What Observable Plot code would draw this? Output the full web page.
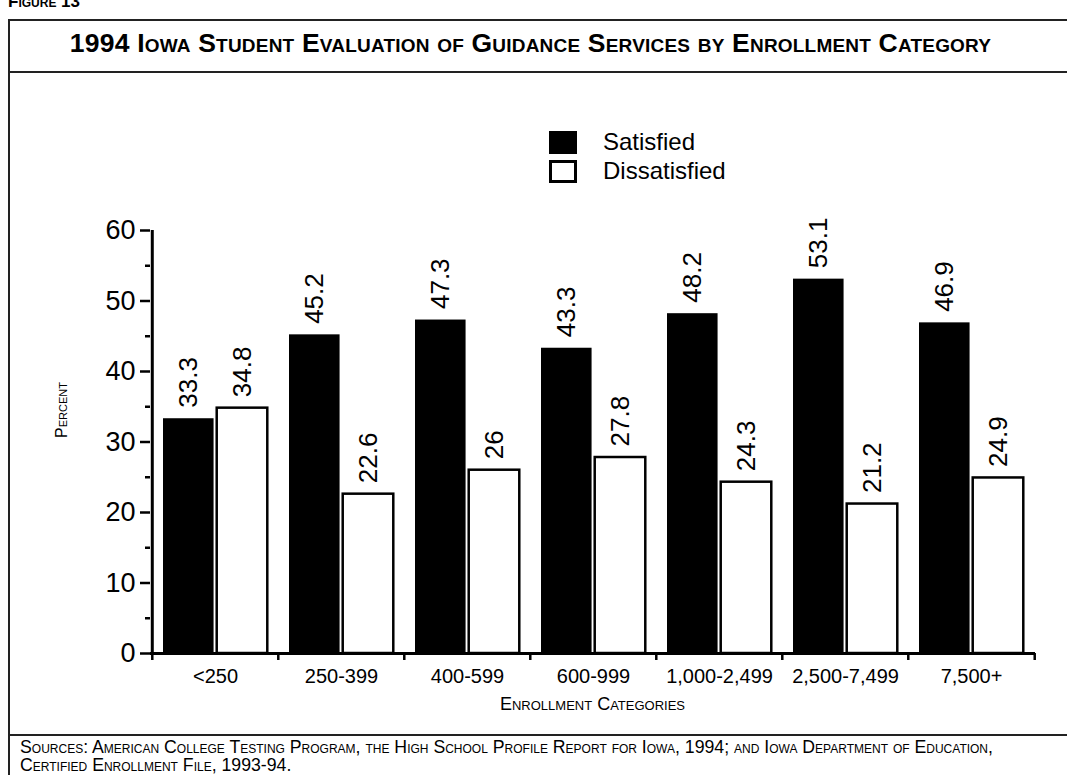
<!DOCTYPE html>
<html><head><meta charset="utf-8">
<script src="https://cdn.jsdelivr.net/npm/d3@7"></script>
<script src="https://cdn.jsdelivr.net/npm/@observablehq/plot@0.6"></script>
<style>
body{margin:0;background:#fff;font-family:"Liberation Sans",Arial,Helvetica,sans-serif;color:#000;}
#wrap{position:relative;width:1067px;height:775px;overflow:hidden;background:#fff;}
.abs{position:absolute;}
.sc{font-variant:small-caps;}
.line{position:absolute;background:#222;}
#chart{position:absolute;left:0;top:0;}
</style></head><body><div id="wrap">
<div class="abs sc" style="left:8px;top:-8px;font-size:17px;font-weight:bold;">Figure 13</div>
<div class="line" style="left:8px;top:19px;width:1059px;height:2px;"></div>
<div class="line" style="left:8px;top:19px;width:2px;height:756px;"></div>
<div class="line" style="left:8px;top:71px;width:1059px;height:2px;"></div>
<div class="line" style="left:8px;top:734px;width:1059px;height:2px;"></div>
<div id="title" class="abs sc" style="left:0px;width:1061px;top:28px;text-align:center;font-size:26.5px;font-weight:bold;white-space:nowrap;letter-spacing:0.2px;">1994 Iowa Student Evaluation of Guidance Services by Enrollment Category</div>
<div id="chart"></div>
<div class="abs" style="left:549px;top:131px;width:28px;height:23px;background:#000;"></div>
<div class="abs" style="left:549px;top:160px;width:22px;height:17px;border:3px solid #000;background:#fff;"></div>
<div id="leg1" class="abs" style="left:603px;top:128px;font-size:24px;">Satisfied</div>
<div id="leg2" class="abs" style="left:603px;top:157px;font-size:24px;">Dissatisfied</div>
<div class="abs sc" style="left:62px;top:410px;font-size:16px;transform:translate(-50%,-50%) rotate(-90deg);white-space:nowrap;">Percent</div>
<div class="abs sc" style="left:150px;width:885px;top:694px;text-align:center;font-size:18px;">Enrollment Categories</div>
<div id="foot" class="abs sc" style="left:20px;top:738px;font-size:17.7px;line-height:18px;white-space:nowrap;">Sources: American College Testing Program, the High School Profile Report for Iowa, 1994; and Iowa Department of Education,<br>Certified Enrollment File, 1993-94.</div>
</div>
<script>
const categories = ["<250","250-399","400-599","600-999","1,000-2,499","2,500-7,499","7,500+"];
const satisfied = [33.3,45.2,47.3,43.3,48.2,53.1,46.9];
const dissatisfied = [34.8,22.6,26,27.8,24.3,21.2,24.9];
const yTicks = [0,10,20,30,40,50,60];
const minorTicks = [5,15,25,35,45,55];

const sat = categories.map((c,i)=>({cat:c, series:"Satisfied", value:satisfied[i]}));
const dis = categories.map((c,i)=>({cat:c, series:"Dissatisfied", value:dissatisfied[i]}));

const W=1067,H=775,ML=150,MR=32,MT=230,MB=122;
const b=(W-ML-MR)/categories.length;
const barW=51;
const chart = Plot.plot({
  width:W,height:H,marginLeft:ML,marginRight:MR,marginTop:MT,marginBottom:MB,
  style:{fontFamily:"'Liberation Sans',Arial,sans-serif",color:"black",background:"transparent",overflow:"visible"},
  x:{domain:categories,padding:0},
  y:{domain:[0,60]},
  marks:[
    Plot.barY(sat,{x:"cat",y:"value",fill:"black",insetLeft:11,insetRight:b-11-barW}),
    Plot.barY(dis,{x:"cat",y:"value",fill:"white",stroke:"black",strokeWidth:2.5,insetLeft:b/2+1.5,insetRight:b/2-1.5-barW}),
    Plot.text(sat,{x:"cat",y:"value",text:d=>String(d.value),rotate:-90,textAnchor:"start",dx:-(b/2-11-barW/2),dy:-11,fontSize:26}),
    Plot.text(dis,{x:"cat",y:"value",text:d=>String(d.value),rotate:-90,textAnchor:"start",dx:(b/2+1.5+barW/2)-b/2,dy:-11,fontSize:26}),
    Plot.axisY({ticks:yTicks,tickSize:10,tickPadding:5,fontSize:27,strokeWidth:2.5,label:null}),
    Plot.axisY({ticks:minorTicks,tickSize:5,text:null,strokeWidth:2.5,label:null}),
    Plot.ruleY([0],{strokeWidth:3}),
    Plot.ruleX([categories[0]],{dx:-b/2,strokeWidth:3}),
    Plot.axisX({tickSize:0,tickPadding:15,fontSize:20,label:null}),
    Plot.axisX({tickSize:7,text:null,dx:-b/2,strokeWidth:2.5,label:null}),
    Plot.axisX({ticks:[categories[categories.length-1]],tickSize:7,text:null,dx:b/2,strokeWidth:2.5,label:null})
  ]
});
document.getElementById("chart").appendChild(chart);
</script>
</body></html>
